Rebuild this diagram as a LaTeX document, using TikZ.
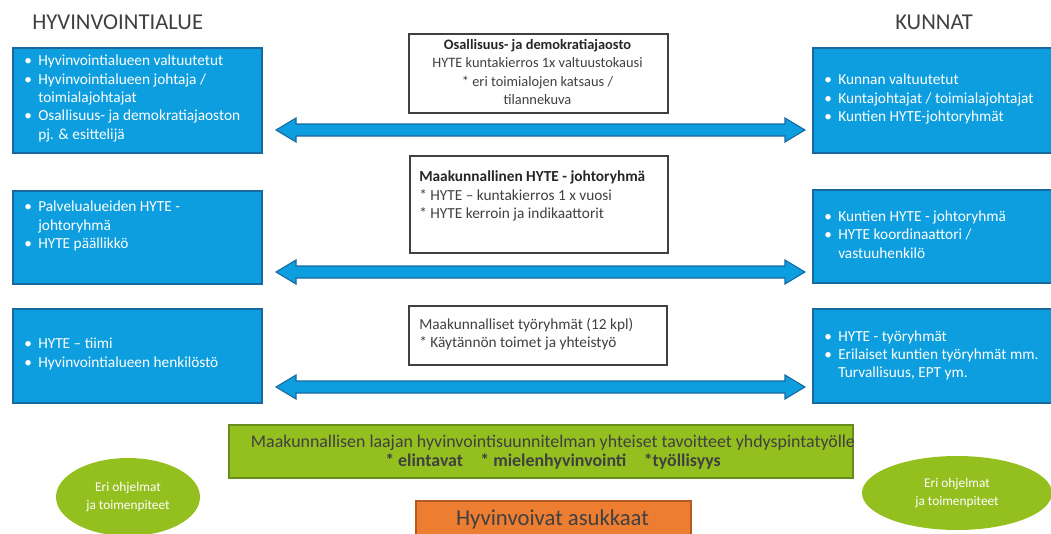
\documentclass[tikz,border=0pt]{standalone}
\usepackage{fontspec}
\setmainfont{Carlito}
\usetikzlibrary{shapes.geometric,calc}
\definecolor{bfill}{RGB}{12,158,222}
\definecolor{bline}{RGB}{25,105,160}
\definecolor{gfill}{RGB}{148,192,31}
\definecolor{gline}{RGB}{105,140,30}
\definecolor{ofill}{RGB}{237,125,49}
\definecolor{oline}{RGB}{180,90,35}
\definecolor{dgray}{RGB}{64,64,64}
\newcommand\pxu{0.75pt}
\newlength\bw
\setlength\bw{10.5pt}
\newcommand\bitem{\makebox[\bw][l]{•}}
\newcommand\bcont{\hspace*{\bw}}
\newcommand\dblarr[2]{%
  \coordinate (#1l) at (276,#2);
  \coordinate (#1r) at (805,#2);
  \draw[arrowshape] (#1l) -- ++(20,-12) -- ++(0,6) -- ($(#1r)+(-20,-6)$) -- ++(0,-6) -- (#1r)
    -- ++(-20,12) -- ++(0,-6) -- ($(#1l)+(20,6)$) -- ++(0,6) -- cycle;}
\begin{document}
\begin{tikzpicture}[x=0.75pt,y=-0.75pt,
  bluebox/.style={draw=bline,line width=1.5pt,fill=bfill,anchor=north west,inner sep=0pt},
  whitebox/.style={draw=dgray,line width=1.5pt,fill=white,anchor=north west,inner sep=0pt},
  btext/.style={text=white,align=left,inner sep=0pt,font=\fontsize{11.5}{13.7}\selectfont},
  ctext/.style={text=dgray,inner sep=0pt,font=\fontsize{11.5}{13.7}\selectfont},
  arrowshape/.style={draw=bline,line width=0.8pt,fill=bfill,line join=miter},
  title/.style={text=dgray,inner sep=0pt,anchor=base west,font=\fontsize{17}{20}\selectfont},
  oval/.style={ellipse,fill=gfill,inner sep=0pt,text=white,align=center,font=\fontsize{10}{13}\selectfont}
]
\useasboundingbox (0,0) rectangle (1051,533);

% titles
\node[title] (t1) at (32,29) {HYVINVOINTIALUE};
\node[title] (t2) at (895,29) {KUNNAT};

% left boxes
\node[bluebox,minimum width=249*\pxu,minimum height=105*\pxu] (L1) at (12,47) {};
\node[bluebox,minimum width=249*\pxu,minimum height=93*\pxu] (L2) at (12,190) {};
\node[bluebox,minimum width=249*\pxu,minimum height=94*\pxu] (L3) at (12,308) {};
\node[btext,anchor=west] (L1t) at (24,98.5) {\bitem Hyvinvointialueen valtuutetut\\ \bitem Hyvinvointialueen johtaja /\\ \bcont toimialajohtajat\\ \bitem Osallisuus- ja demokratiajaoston\\ \bcont pj. \& esittelijä};
\node[btext,anchor=west] (L2t) at (24,226) {\bitem Palvelualueiden HYTE -\\ \bcont johtoryhmä\\ \bitem HYTE päällikkö};
\node[btext,anchor=west] (L3t) at (24,354) {\bitem HYTE – tiimi\\ \bitem Hyvinvointialueen henkilöstö};

% right boxes
\node[bluebox,minimum width=250*\pxu,minimum height=105*\pxu] (R1) at (812,47) {};
\node[bluebox,minimum width=250*\pxu,minimum height=93*\pxu] (R2) at (812,189) {};
\node[bluebox,minimum width=250*\pxu,minimum height=94*\pxu] (R3) at (812,308) {};
\node[btext,anchor=west] (R1t) at (824,99) {\bitem Kunnan valtuutetut\\ \bitem Kuntajohtajat / toimialajohtajat\\ \bitem Kuntien HYTE-johtoryhmät};
\node[btext,anchor=west] (R2t) at (824,234.5) {\bitem Kuntien HYTE - johtoryhmä\\ \bitem HYTE koordinaattori /\\ \bcont vastuuhenkilö};
\node[btext,anchor=west] (R3t) at (824,355.5) {\bitem HYTE - työryhmät\\ \bitem Erilaiset kuntien työryhmät mm.\\ \bcont Turvallisuus, EPT ym.};

% center boxes
\node[whitebox,minimum width=259*\pxu,minimum height=79*\pxu] (C1) at (408,33) {};
\node[whitebox,minimum width=258*\pxu,minimum height=97*\pxu] (C2) at (409,155) {};
\node[whitebox,minimum width=258*\pxu,minimum height=59*\pxu] (C3) at (408,305) {};
\node[ctext,align=center,font=\fontsize{10.8}{13.7}\selectfont] (C1t) at (537.5,72) {{\bfseries\color{black!85}Osallisuus- ja demokratiajaosto}\\ HYTE kuntakierros 1x valtuustokausi\\ * eri toimialojen katsaus /\\ tilannekuva};
\node[ctext,align=left,anchor=west] (C2t) at (419,196) {{\bfseries\color{black!85}Maakunnallinen HYTE - johtoryhmä}\\ * HYTE – kuntakierros 1 x vuosi\\ * HYTE kerroin ja indikaattorit};
\node[ctext,align=left,anchor=west] (C3t) at (419,334.5) {Maakunnalliset työryhmät (12 kpl)\\ * Käytännön toimet ja yhteistyö};

% double arrows
\dblarr{A1}{130}
\dblarr{A2}{272}
\dblarr{A3}{387}

% ellipses
\node[oval,minimum width=144*\pxu,minimum height=78*\pxu] (E1) at (128,497) {Eri ohjelmat\\ ja toimenpiteet};
\node[oval,minimum width=190*\pxu,minimum height=74*\pxu] (E2) at (957,493) {Eri ohjelmat\\ ja toimenpiteet};

% green goals box
\node[draw=gline,line width=1.5pt,fill=gfill,anchor=north west,minimum width=624*\pxu,minimum height=53*\pxu,inner sep=0pt] (G) at (228,424) {};
\node[text=dgray,align=center,inner sep=0pt,font=\fontsize{13.4}{14.4}\selectfont] (Gt) at (553,452.5) {Maakunnallisen laajan hyvinvointisuunnitelman yhteiset tavoitteet yhdyspintatyölle\\ {\bfseries * elintavat\hspace{13pt}* mielenhyvinvointi\hspace{13pt}*työllisyys}};

% orange box
\node[draw=oline,line width=1.5pt,fill=ofill,anchor=north west,minimum width=275*\pxu,minimum height=45*\pxu,inner sep=0pt] (O) at (415,500) {};
\node[text=dgray,inner sep=0pt,font=\fontsize{17}{20}\selectfont] (Ot) at (552.5,519) {Hyvinvoivat asukkaat};
\end{tikzpicture}
\end{document}
